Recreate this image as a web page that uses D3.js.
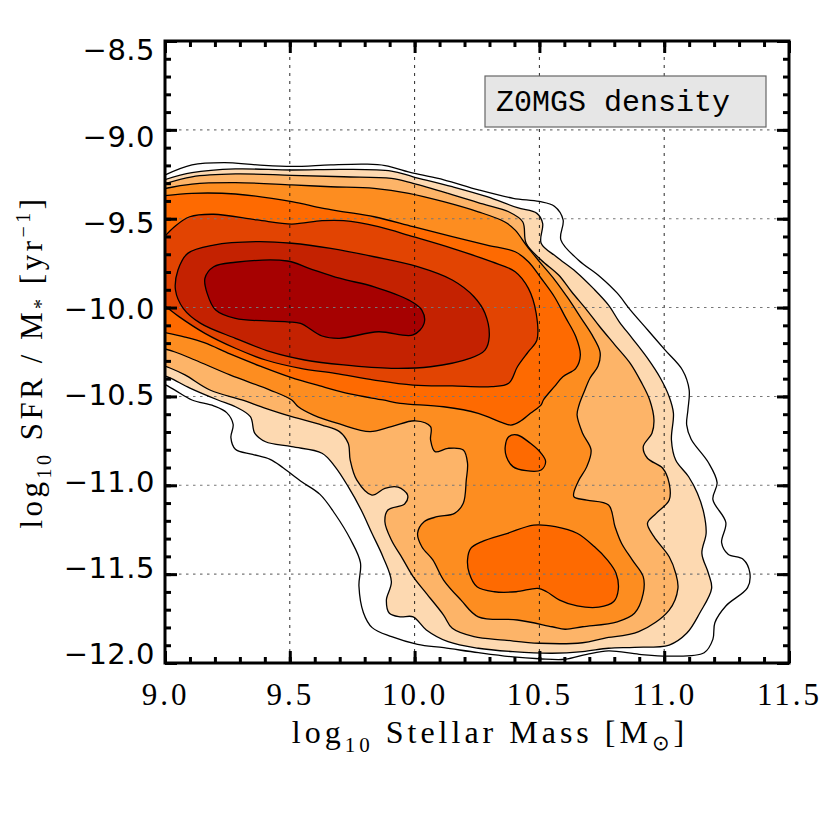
<!DOCTYPE html>
<html>
<head>
<meta charset="utf-8">
<script src="https://cdn.jsdelivr.net/npm/d3@7"></script>
<style>
  body { margin: 0; background: #fff; }
</style>
</head>
<body>
<svg width="830" height="830"></svg>
<script>
// axis ticks and grid
var xTicks = [9.0, 9.5, 10.0, 10.5, 11.0, 11.5];
var yTicks = [-8.5, -9.0, -9.5, -10.0, -10.5, -11.0, -11.5, -12.0];
var xGrid = [9.5, 10.0, 10.5, 11.0];
var yGrid = [-9.0, -9.5, -10.0, -10.5, -11.0, -11.5];
var xMinor = d3.range(9.0, 11.55, 0.1);
var yMinor = d3.range(-12.0, -8.45, 0.1);

// fill colour per density level (outermost line is unfilled)
var levelColors = ['#ffffff', '#fdd9b1', '#fdb468', '#fd8d20', '#fe6a01', '#e24402', '#c42201', '#a60101'];

// contour vertices [log10 M*, log10 sSFR]
var contour0 = [[8.986,-9.263],[9.108,-9.197],[9.238,-9.184],[9.369,-9.197],[9.508,-9.206],[9.664,-9.197],[9.803,-9.193],[9.882,-9.201],[9.995,-9.244],[10.117,-9.281],[10.256,-9.338],[10.395,-9.385],[10.499,-9.403],[10.56,-9.43],[10.595,-9.507],[10.586,-9.619],[10.656,-9.732],[10.743,-9.826],[10.812,-9.919],[10.864,-10.013],[10.934,-10.126],[11.003,-10.238],[11.073,-10.351],[11.100,-10.463],[11.095,-10.576],[11.090,-10.660],[11.108,-10.741],[11.177,-10.872],[11.212,-10.985],[11.195,-11.079],[11.247,-11.21],[11.23,-11.323],[11.256,-11.388],[11.317,-11.417],[11.343,-11.492],[11.334,-11.576],[11.247,-11.679],[11.203,-11.773],[11.195,-11.867],[11.16,-11.942],[11.021,-11.961],[10.9,-11.951],[10.777,-11.932],[10.69,-11.951],[10.603,-11.979],[10.499,-11.976],[10.395,-11.966],[10.256,-11.942],[10.117,-11.914],[10.012,-11.895],[9.908,-11.852],[9.83,-11.801],[9.795,-11.717],[9.777,-11.567],[9.783,-11.435],[9.743,-11.304],[9.682,-11.163],[9.621,-11.051],[9.543,-10.976],[9.473,-10.901],[9.421,-10.854],[9.351,-10.826],[9.282,-10.797],[9.264,-10.732],[9.273,-10.657],[9.247,-10.591],[9.195,-10.553],[9.108,-10.52],[9.038,-10.463],[9.003,-10.435],[8.986,-10.42]];

var contour1 = [[8.986,-9.286],[9.108,-9.241],[9.282,-9.220],[9.508,-9.226],[9.716,-9.222],[9.907,-9.232],[9.994,-9.264],[10.151,-9.320],[10.290,-9.376],[10.412,-9.438],[10.490,-9.470],[10.513,-9.526],[10.507,-9.638],[10.568,-9.714],[10.646,-9.798],[10.716,-9.892],[10.777,-9.986],[10.820,-10.080],[10.872,-10.173],[10.933,-10.285],[10.985,-10.398],[11.020,-10.502],[11.037,-10.595],[11.029,-10.745],[11.046,-10.858],[11.098,-10.952],[11.133,-11.045],[11.159,-11.158],[11.168,-11.270],[11.151,-11.383],[11.177,-11.495],[11.190,-11.580],[11.142,-11.720],[11.090,-11.833],[11.020,-11.899],[10.881,-11.912],[10.777,-11.917],[10.673,-11.936],[10.551,-11.945],[10.394,-11.936],[10.255,-11.917],[10.134,-11.880],[10.047,-11.814],[9.994,-11.740],[9.942,-11.740],[9.899,-11.720],[9.887,-11.646],[9.907,-11.543],[9.873,-11.402],[9.829,-11.270],[9.786,-11.139],[9.734,-11.008],[9.681,-10.895],[9.629,-10.820],[9.508,-10.783],[9.403,-10.755],[9.360,-10.708],[9.342,-10.614],[9.282,-10.558],[9.212,-10.520],[9.100,-10.453],[9.020,-10.396],[8.986,-10.379]];

var contour2 = [[8.986,-9.309],[9.108,-9.264],[9.282,-9.248],[9.508,-9.256],[9.716,-9.264],[9.907,-9.273],[9.994,-9.301],[10.134,-9.357],[10.273,-9.417],[10.377,-9.461],[10.433,-9.517],[10.447,-9.638],[10.507,-9.732],[10.577,-9.817],[10.629,-9.911],[10.690,-10.014],[10.742,-10.108],[10.803,-10.211],[10.864,-10.314],[10.907,-10.417],[10.942,-10.520],[10.959,-10.633],[10.951,-10.707],[10.916,-10.783],[10.933,-10.848],[10.994,-10.904],[11.020,-10.989],[11.020,-11.083],[10.968,-11.158],[10.933,-11.214],[10.959,-11.289],[11.020,-11.402],[11.046,-11.495],[11.055,-11.580],[11.020,-11.702],[10.898,-11.824],[10.759,-11.861],[10.673,-11.886],[10.499,-11.889],[10.360,-11.871],[10.238,-11.852],[10.151,-11.805],[10.116,-11.730],[10.047,-11.608],[9.994,-11.514],[9.951,-11.411],[9.907,-11.308],[9.881,-11.205],[9.893,-11.139],[9.960,-11.105],[9.972,-11.055],[9.934,-11.011],[9.881,-11.017],[9.829,-11.055],[9.768,-10.970],[9.742,-10.858],[9.734,-10.764],[9.699,-10.698],[9.629,-10.661],[9.508,-10.614],[9.403,-10.567],[9.308,-10.520],[9.180,-10.464],[9.080,-10.379],[9.020,-10.340],[8.986,-10.323]];

var contour3 = [[8.986,-9.334],[9.108,-9.305],[9.282,-9.297],[9.508,-9.310],[9.664,-9.320],[9.838,-9.329],[9.977,-9.357],[10.116,-9.404],[10.255,-9.461],[10.360,-9.517],[10.403,-9.564],[10.450,-9.654],[10.502,-9.744],[10.562,-9.845],[10.614,-9.946],[10.667,-10.059],[10.711,-10.154],[10.743,-10.250],[10.735,-10.329],[10.703,-10.396],[10.679,-10.475],[10.659,-10.548],[10.651,-10.605],[10.673,-10.707],[10.707,-10.801],[10.690,-10.895],[10.655,-10.980],[10.638,-11.064],[10.690,-11.083],[10.777,-11.111],[10.803,-11.233],[10.829,-11.326],[10.872,-11.420],[10.916,-11.514],[10.916,-11.608],[10.881,-11.720],[10.812,-11.768],[10.673,-11.796],[10.603,-11.810],[10.551,-11.796],[10.412,-11.758],[10.255,-11.740],[10.186,-11.646],[10.116,-11.533],[10.073,-11.420],[10.029,-11.346],[10.012,-11.270],[10.038,-11.205],[10.090,-11.177],[10.160,-11.158],[10.195,-11.101],[10.207,-10.970],[10.212,-10.876],[10.195,-10.801],[10.134,-10.792],[10.082,-10.811],[10.064,-10.745],[10.064,-10.670],[10.003,-10.637],[9.907,-10.670],[9.821,-10.698],[9.699,-10.655],[9.595,-10.605],[9.534,-10.558],[9.508,-10.520],[9.421,-10.464],[9.260,-10.379],[9.120,-10.295],[9.040,-10.250],[8.986,-10.228]];

var contour4 = [[8.986,-9.372],[9.108,-9.357],[9.282,-9.361],[9.508,-9.404],[9.629,-9.441],[9.716,-9.461],[9.838,-9.489],[9.994,-9.545],[10.151,-9.601],[10.290,-9.648],[10.403,-9.686],[10.456,-9.742],[10.507,-9.835],[10.560,-9.939],[10.603,-10.051],[10.646,-10.164],[10.664,-10.267],[10.646,-10.342],[10.594,-10.389],[10.560,-10.445],[10.516,-10.520],[10.507,-10.548],[10.464,-10.595],[10.421,-10.642],[10.386,-10.661],[10.351,-10.648],[10.255,-10.595],[10.116,-10.558],[9.942,-10.539],[9.873,-10.520],[9.741,-10.486],[9.621,-10.441],[9.501,-10.391],[9.381,-10.329],[9.260,-10.261],[9.160,-10.199],[9.080,-10.166],[8.986,-10.137]];

var contour4Knot = [[10.377,-10.727],[10.412,-10.717],[10.464,-10.764],[10.507,-10.820],[10.525,-10.867],[10.507,-10.914],[10.447,-10.918],[10.394,-10.895],[10.368,-10.839],[10.363,-10.783]];

var contour4Low = [[10.225,-11.355],[10.268,-11.318],[10.373,-11.270],[10.477,-11.224],[10.564,-11.233],[10.651,-11.270],[10.720,-11.345],[10.772,-11.420],[10.807,-11.495],[10.816,-11.588],[10.798,-11.654],[10.738,-11.686],[10.651,-11.679],[10.581,-11.646],[10.529,-11.599],[10.494,-11.580],[10.407,-11.599],[10.320,-11.599],[10.250,-11.571],[10.219,-11.495],[10.212,-11.420]];

var contour5 = [[8.986,-9.62],[9.038,-9.545],[9.099,-9.489],[9.195,-9.475],[9.369,-9.507],[9.508,-9.530],[9.629,-9.511],[9.716,-9.511],[9.855,-9.545],[9.994,-9.601],[10.151,-9.667],[10.308,-9.742],[10.403,-9.798],[10.456,-9.892],[10.487,-10.032],[10.490,-10.183],[10.456,-10.248],[10.412,-10.333],[10.377,-10.426],[10.308,-10.445],[10.151,-10.441],[9.994,-10.436],[9.838,-10.408],[9.681,-10.370],[9.543,-10.342],[9.403,-10.295],[9.282,-10.229],[9.160,-10.145],[9.056,-10.051],[9.004,-9.995],[8.986,-9.976]];

var contour6 = [[9.052,-9.789],[9.091,-9.695],[9.195,-9.648],[9.369,-9.629],[9.508,-9.638],[9.664,-9.667],[9.838,-9.714],[10.012,-9.770],[10.151,-9.845],[10.238,-9.939],[10.282,-10.032],[10.299,-10.164],[10.282,-10.239],[10.221,-10.286],[10.064,-10.333],[9.907,-10.342],[9.716,-10.323],[9.560,-10.295],[9.421,-10.248],[9.282,-10.173],[9.143,-10.089],[9.073,-10.004],[9.042,-9.901]];

var contour7 = [[9.160,-9.835],[9.195,-9.770],[9.282,-9.745],[9.490,-9.738],[9.577,-9.779],[9.699,-9.835],[9.838,-9.883],[9.977,-9.958],[10.029,-10.014],[10.038,-10.089],[9.994,-10.154],[9.855,-10.136],[9.699,-10.173],[9.629,-10.160],[9.543,-10.089],[9.490,-10.080],[9.282,-10.061],[9.203,-10.014],[9.169,-9.920]];

var levels = [
  {pts: contour0, color: levelColors[0], edge: true},
  {pts: contour1, color: levelColors[1], edge: true},
  {pts: contour2, color: levelColors[2], edge: true},
  {pts: contour3, color: levelColors[3], edge: true},
  {pts: contour4, color: levelColors[4], edge: true},
  {pts: contour4Knot, color: levelColors[4], edge: false},
  {pts: contour4Low, color: levelColors[4], edge: false},
  {pts: contour5, color: levelColors[5], edge: true},
  {pts: contour6, color: levelColors[6], edge: false},
  {pts: contour7, color: levelColors[7], edge: false}
];

var svg = d3.select('svg');
var pLeft = 165, pRight = 789, pTop = 41, pBottom = 663;

var x = d3.scaleLinear().domain([9.0, 11.5]).range([pLeft, pRight]);
var y = d3.scaleLinear().domain([-12.0, -8.5]).range([pBottom, pTop]);
// tick labels on the left sit on a slightly squeezed scale, as in the picture
var yLab = d3.scaleLinear().domain([-12.0, -8.5]).range([654.5, 50.5]);

svg.append('clipPath').attr('id', 'plotclip')
  .append('rect')
    .attr('x', pLeft).attr('y', pTop)
    .attr('width', pRight - pLeft).attr('height', pBottom - pTop);

var plot = svg.append('g').attr('clip-path', 'url(#plotclip)');
var gFill = plot.append('g');
var gGrid = plot.append('g');
var gLine = plot.append('g');

var openLine = d3.line().x(d => x(d[0])).y(d => y(d[1])).curve(d3.curveCatmullRom.alpha(0.5));
var closedLine = d3.line().x(d => x(d[0])).y(d => y(d[1])).curve(d3.curveCatmullRomClosed.alpha(0.5));

levels.forEach(function(lev) {
  var strokeD, fillD;
  if (lev.edge) {
    // contour runs off the left axis: close it outside the plot
    strokeD = openLine(lev.pts);
    var a = lev.pts[0], b = lev.pts[lev.pts.length - 1];
    fillD = strokeD + 'L' + x(8.8) + ',' + y(b[1]) + 'L' + x(8.8) + ',' + y(a[1]) + 'Z';
  } else {
    strokeD = fillD = closedLine(lev.pts);
  }
  gFill.append('path')
    .attr('d', fillD)
    .attr('fill', lev.color)
    .attr('stroke', 'none');
  gLine.append('path')
    .attr('d', strokeD)
    .attr('fill', 'none')
    .attr('stroke', '#000')
    .attr('stroke-width', 1.3);
});

// grid
gGrid.selectAll('.vg').data(xGrid).enter().append('line')
  .attr('x1', d => x(d)).attr('x2', d => x(d))
  .attr('y1', pTop).attr('y2', pBottom)
  .attr('stroke', '#111').attr('stroke-width', 0.9)
  .attr('stroke-dasharray', '3,5');
gGrid.selectAll('.hg').data(yGrid).enter().append('line')
  .attr('x1', pLeft).attr('x2', pRight)
  .attr('y1', d => y(d)).attr('y2', d => y(d))
  .attr('stroke', '#777').attr('stroke-width', 1.1)
  .attr('stroke-dasharray', '2.5,4.5');

// legend box
svg.append('rect')
  .attr('x', 485).attr('y', 76).attr('width', 281).attr('height', 51)
  .attr('fill', '#e6e6e6').attr('stroke', '#666').attr('stroke-width', 1.2);
svg.append('text')
  .attr('x', 496).attr('y', 111)
  .attr('font-family', 'Liberation Mono, DejaVu Sans Mono, monospace')
  .attr('font-size', 30)
  .attr('fill', '#000')
  .text('Z0MGS density');

// ticks on all four sides, pointing inwards
function styleTicks(g) {
  g.select('.domain').remove();
  g.selectAll('.tick line').attr('stroke', '#000').attr('stroke-width', 3);
}

svg.append('g').attr('transform', 'translate(0,' + pBottom + ')')
  .call(d3.axisBottom(x).tickValues(xMinor).tickSize(-6).tickFormat(''))
  .call(styleTicks);
svg.append('g').attr('transform', 'translate(0,' + pTop + ')')
  .call(d3.axisTop(x).tickValues(xMinor).tickSize(-6).tickFormat(''))
  .call(styleTicks);
svg.append('g').attr('transform', 'translate(' + pLeft + ',0)')
  .call(d3.axisLeft(y).tickValues(yMinor).tickSize(-6).tickFormat(''))
  .call(styleTicks);
svg.append('g').attr('transform', 'translate(' + pRight + ',0)')
  .call(d3.axisRight(y).tickValues(yMinor).tickSize(-6).tickFormat(''))
  .call(styleTicks);

var xAxis = svg.append('g').attr('transform', 'translate(0,' + pBottom + ')')
  .call(d3.axisBottom(x).tickValues(xTicks).tickSizeInner(-12).tickSizeOuter(0)
    .tickPadding(20).tickFormat(d3.format('.1f')))
  .call(styleTicks);
xAxis.selectAll('.tick text')
  .attr('font-family', 'Liberation Serif, Times New Roman, serif')
  .attr('font-size', 31)
  .attr('letter-spacing', 3)
  .attr('fill', '#000');

svg.append('g').attr('transform', 'translate(0,' + pTop + ')')
  .call(d3.axisTop(x).tickValues(xTicks).tickSizeInner(-12).tickSizeOuter(0).tickFormat(''))
  .call(styleTicks);
svg.append('g').attr('transform', 'translate(' + pLeft + ',0)')
  .call(d3.axisLeft(y).tickValues(yTicks).tickSizeInner(-12).tickSizeOuter(0).tickFormat(''))
  .call(styleTicks);
svg.append('g').attr('transform', 'translate(' + pRight + ',0)')
  .call(d3.axisRight(y).tickValues(yTicks).tickSizeInner(-12).tickSizeOuter(0).tickFormat(''))
  .call(styleTicks);

var yAxis = svg.append('g').attr('transform', 'translate(' + pLeft + ',0)')
  .call(d3.axisLeft(yLab).tickValues(yTicks).tickSize(0).tickPadding(10).tickFormat(d3.format('.1f')));
yAxis.select('.domain').remove();
yAxis.selectAll('.tick text')
  .attr('font-family', 'DejaVu Sans, sans-serif')
  .attr('font-size', 29)
  .attr('letter-spacing', 0.5)
  .attr('fill', '#000');

// frame
svg.append('rect')
  .attr('x', pLeft).attr('y', pTop)
  .attr('width', pRight - pLeft).attr('height', pBottom - pTop)
  .attr('fill', 'none').attr('stroke', '#000').attr('stroke-width', 3);

// axis titles
var serif = 'Liberation Serif, Times New Roman, serif';
var xt = svg.append('text')
  .attr('x', 490).attr('y', 743)
  .attr('text-anchor', 'middle')
  .attr('font-family', serif).attr('font-size', 32)
  .attr('letter-spacing', 4)
  .attr('fill', '#000');
xt.append('tspan').text('log');
xt.append('tspan').attr('dy', 9).attr('font-size', 21).text('10');
xt.append('tspan').attr('dy', -9).text(' Stellar Mass [M');
xt.append('tspan').attr('dy', 7).attr('font-size', 21).attr('font-family', 'DejaVu Sans, sans-serif').text('\u2299');
xt.append('tspan').attr('dy', -7).text(']');

var yt = svg.append('text')
  .attr('transform', 'translate(42,362) rotate(-90)')
  .attr('text-anchor', 'middle')
  .attr('font-family', serif).attr('font-size', 31)
  .attr('letter-spacing', 3.5)
  .attr('fill', '#000');
yt.append('tspan').text('log');
yt.append('tspan').attr('dy', 9).attr('font-size', 20).text('10');
yt.append('tspan').attr('dy', -9).text(' SFR / M');
yt.append('tspan').attr('dy', 6).attr('font-size', 20).text('*');
yt.append('tspan').attr('dy', -6).text(' [yr');
yt.append('tspan').attr('dy', -12).attr('font-size', 20).text('\u22121');
yt.append('tspan').attr('dy', 12).text(']');
</script>
</body>
</html>
